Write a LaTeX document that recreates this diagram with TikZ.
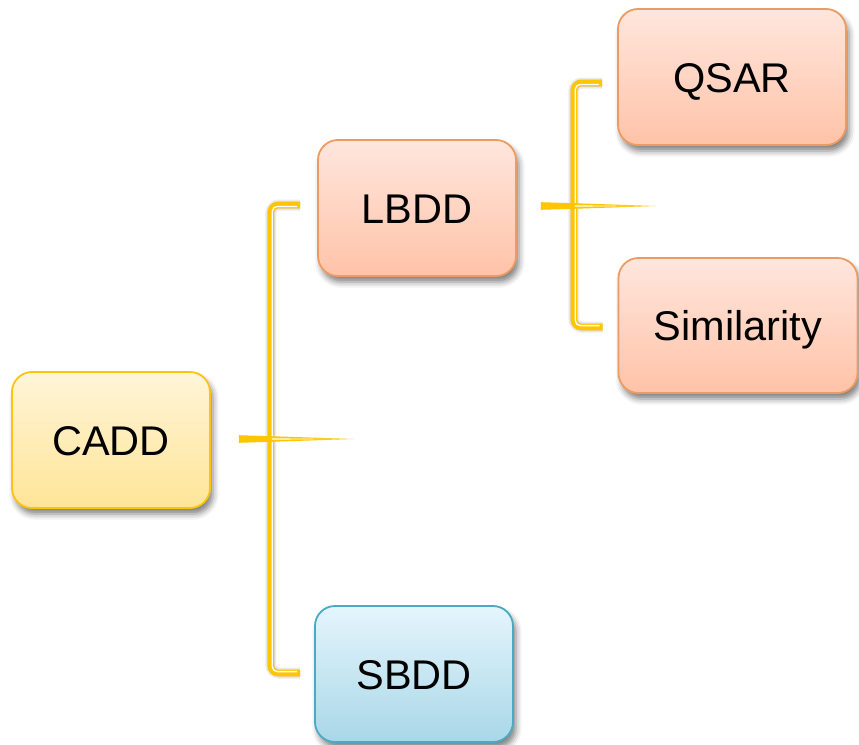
\documentclass[tikz,border=0pt]{standalone}
\usepackage{fontspec}
\setmainfont{Liberation Sans}
\usetikzlibrary{calc,shadows.blur}

\definecolor{caddtop}{HTML}{FFF5D8}
\definecolor{caddbot}{HTML}{FFE598}
\definecolor{caddline}{HTML}{FFC30F}
\definecolor{ligtop}{HTML}{FFE6DD}
\definecolor{ligbot}{HTML}{FFC3A8}
\definecolor{ligline}{HTML}{EE9B62}
\definecolor{strtop}{HTML}{E5F5FC}
\definecolor{strbot}{HTML}{A9D7E8}
\definecolor{strline}{HTML}{4AAAC3}
\definecolor{bracecol}{HTML}{FFC600}

\tikzset{
  box/.style={rounded corners=20pt, minimum height=136pt, inner sep=0pt,
    line width=1.8pt, font=\fontsize{41.5}{48}\selectfont,
    text height=30pt, text depth=0pt,
    blur shadow={shadow xshift=3pt, shadow yshift=-6pt,
      shadow blur radius=6pt, shadow opacity=50}},
  rootbox/.style={box, draw=caddline, top color=caddtop, bottom color=caddbot},
  ligbox/.style={box, draw=ligline, top color=ligtop, bottom color=ligbot},
  strbox/.style={box, draw=strline, top color=strtop, bottom color=strbot},
  braceline/.style={draw=bracecol, line width=6.5pt, rounded corners=7pt},
  braceshine/.style={draw=white, line width=1.3pt, rounded corners=5pt},
  braceshade/.style={draw=black, line width=#1, rounded corners=8pt,
    draw opacity=0.08},
}

% #1 upper end, #2 lower end, #3 point on the spine at the middle,
% #4 start of the stub, #5 tip of the spike
\newcommand\drawbrace[5]{%
  \coordinate (#1-c) at (#1 -| #3);
  \coordinate (#2-c) at (#2 -| #3);
  \foreach \w in {11pt,8pt,6pt}{
    \draw[braceshade=\w, shift={(3,5)}] (#1) -- (#1-c) -- (#2-c) -- (#2);
  }
  \draw[braceline] (#1) -- (#1-c) -- (#2-c) -- (#2);
  \draw[braceshine] ($(#1)+(-3,1.4)$) -- ($(#1-c)+(1.4,1.4)$)
    -- ($(#2-c)+(1.4,-1.4)$) -- ($(#2)+(-3,-1.4)$);
  \fill[bracecol] ($(#4)+(0,-3.8)$) -- ($(#3)+(0,-2.8)$) -- (#5)
    -- ($(#3)+(0,2.8)$) -- ($(#4)+(0,3.8)$) -- cycle;
  \fill[white] ($(#3)+(1,-0.7)$) -- ($(#5)+(-18,0)$)
    -- ($(#3)+(1,0.7)$) -- cycle;
}

\begin{document}
\begin{tikzpicture}[x=1pt,y=-1pt]
\useasboundingbox (0,0) rectangle (859,744);

% boxes
\node[rootbox, minimum width=198pt] (cadd) at (111,440) {CADD};
\node[ligbox,  minimum width=198pt] (lbdd) at (417,208) {LBDD};
\node[strbox,  minimum width=198pt] (sbdd) at (414,674) {SBDD};
\node[ligbox,  minimum width=228pt] (qsar) at (732,77) {QSAR};
\node[ligbox,  minimum width=239pt, minimum height=135pt] (sim) at (738,325.5) {Similarity};

% bracket from CADD to LBDD and SBDD
\coordinate (b1t) at ($(lbdd.west)+(-17,-3)$);
\coordinate (b1b) at ($(sbdd.west)+(-14,-1)$);
\coordinate (b1m) at ($(cadd.east)+(60,-1)$);
\coordinate (b1s) at ($(cadd.east)+(28,-1)$);
\coordinate (b1p) at ($(cadd.east)+(143,-1)$);
\drawbrace{b1t}{b1b}{b1m}{b1s}{b1p}

% bracket from LBDD to QSAR and Similarity
\coordinate (b2t) at ($(qsar.west)+(-15,6)$);
\coordinate (b2b) at ($(sim.west)+(-15,1.5)$);
\coordinate (b2m) at ($(lbdd.east)+(57,-2)$);
\coordinate (b2s) at ($(lbdd.east)+(24,-2)$);
\coordinate (b2p) at ($(lbdd.east)+(139,-2)$);
\drawbrace{b2t}{b2b}{b2m}{b2s}{b2p}
\end{tikzpicture}
\end{document}
